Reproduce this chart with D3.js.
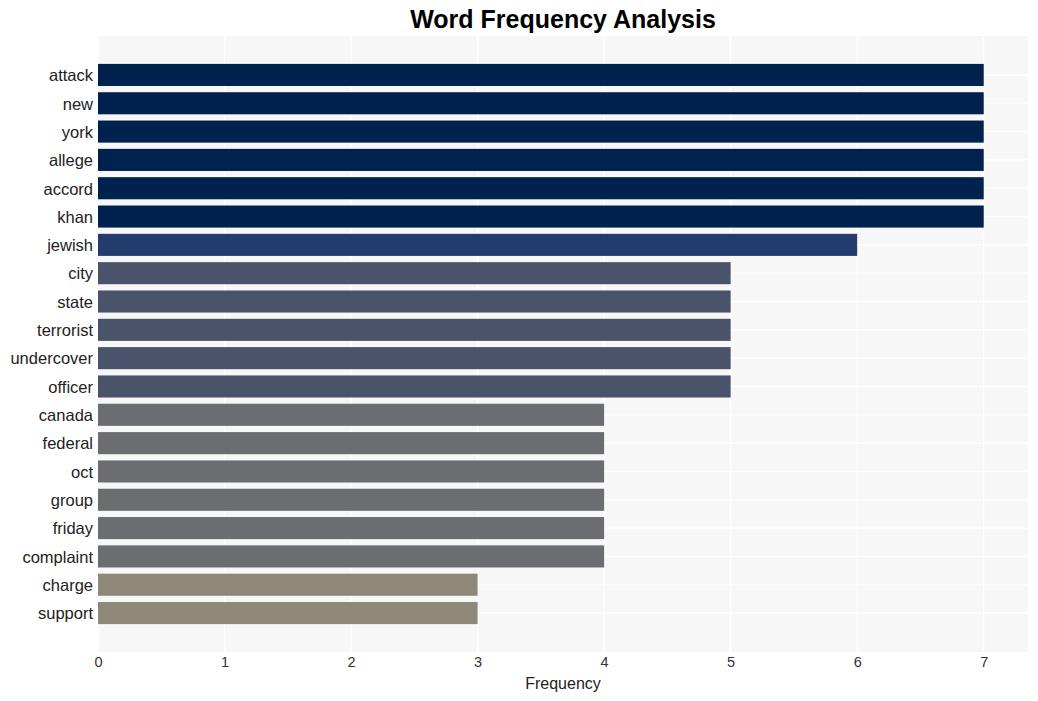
<!DOCTYPE html>
<html><head><meta charset="utf-8">
<script src="https://cdn.jsdelivr.net/npm/d3@7"></script>
<style>body{margin:0;background:#fff}svg{display:block;font-family:"Liberation Sans",Arial,sans-serif}</style>
</head><body><svg id="c" width="1038" height="701"></svg>
<script>
const words = ["attack","new","york","allege","accord","khan","jewish","city","state","terrorist","undercover","officer","canada","federal","oct","group","friday","complaint","charge","support"];
const counts = [7,7,7,7,7,7,6,5,5,5,5,5,4,4,4,4,4,4,3,3];
const xTicks = [0,1,2,3,4,5,6,7];
const colorKeys = [7,6,5,4,3];
const colorVals = ["#00224e","#233b6d","#4b536b","#6c6d71","#8e8878"];

const svg = d3.select("#c");
const m = {l:98, r:1028, t:36, b:652};
const x = d3.scaleLinear().domain([0,7.35]).range([m.l,m.r]);
const y = d3.scaleBand().domain(words).range([m.t,m.b]).paddingInner(0.22).paddingOuter(0.985);
const col = d3.scaleOrdinal().domain(colorKeys).range(colorVals);

svg.append("rect").attr("x",m.l).attr("y",m.t).attr("width",m.r-m.l).attr("height",m.b-m.t).attr("fill","#f7f7f7");
svg.append("g").selectAll("line").data(xTicks).join("line")
  .attr("x1",d=>x(d)).attr("x2",d=>x(d)).attr("y1",m.t).attr("y2",m.b)
  .attr("stroke","#fff").attr("stroke-width",1.2);
svg.append("g").selectAll("line").data(words).join("line")
  .attr("x1",m.l).attr("x2",m.r).attr("y1",d=>y(d)+y.bandwidth()/2).attr("y2",d=>y(d)+y.bandwidth()/2)
  .attr("stroke","#fff").attr("stroke-width",1.2);

svg.append("g").selectAll("rect").data(words).join("rect")
  .attr("x",x(0)).attr("y",d=>y(d)).attr("height",y.bandwidth())
  .attr("width",(d,i)=>x(counts[i])-x(0)).attr("fill",(d,i)=>col(counts[i]));

const xa = svg.append("g").attr("transform",`translate(0,${m.b})`)
  .call(d3.axisBottom(x).tickValues(xTicks).tickFormat(d3.format("d")).tickSize(0).tickPadding(5));
xa.select(".domain").remove();
xa.attr("font-size",14.5);
xa.selectAll("text").attr("font-size",14.5).attr("fill","#333").attr("font-family","Liberation Sans, Arial, sans-serif");

const ya = svg.append("g").attr("transform",`translate(${m.l},0)`)
  .call(d3.axisLeft(y).tickSize(0).tickPadding(5));
ya.select(".domain").remove();
ya.attr("font-size",16.5);
ya.selectAll("text").attr("font-size",16.5).attr("dy","0.38em").attr("fill","#222").attr("font-family","Liberation Sans, Arial, sans-serif");

svg.append("text").attr("x",(m.l+m.r)/2).attr("y",689).attr("text-anchor","middle")
  .attr("font-size",16).attr("fill","#222").text("Frequency");
svg.append("text").attr("x",563).attr("y",28).attr("text-anchor","middle")
  .attr("font-size",25).attr("font-weight","bold").attr("fill","#000").text("Word Frequency Analysis");
</script></body></html>
